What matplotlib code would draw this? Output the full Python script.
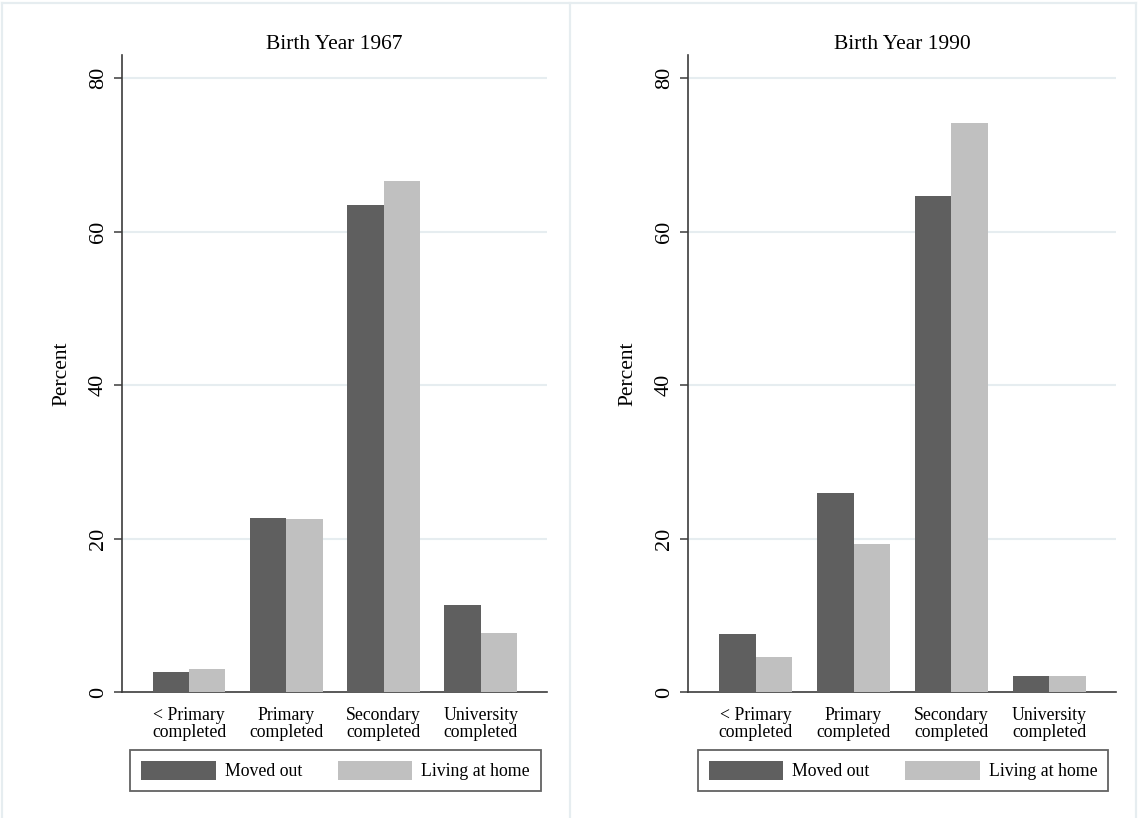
import matplotlib.pyplot as plt
import numpy as np
from matplotlib.lines import Line2D
from matplotlib.patches import Patch

categories = ["< Primary\ncompleted", "Primary\ncompleted",
              "Secondary\ncompleted", "University\ncompleted"]
series_names = ["Moved out", "Living at home"]
panel_titles = ["Birth Year 1967", "Birth Year 1990"]

moved_out_1967 = [2.65, 22.7, 63.4, 11.3]
living_home_1967 = [3.0, 22.6, 66.6, 7.65]
moved_out_1990 = [7.6, 25.9, 64.6, 2.05]
living_home_1990 = [4.5, 19.3, 74.2, 2.05]

yticks = [0, 20, 40, 60, 80]

DARK = "#5f5f5f"
LIGHT = "#c0c0c0"
GRID = "#e6edf0"
AXIS = "#3c3c3c"

plt.rcParams["font.family"] = ["Liberation Serif", "DejaVu Serif"]

W, H = 1138, 818
fig = plt.figure(figsize=(W / 100, H / 100), dpi=100)


def fx(px):
    return px / W


def fy(py):
    return 1 - py / H


# panel borders of the combined graph
for seg in [((2, 2), (3, 818)), ((2, 1136), (3, 3)), ((569.5, 569.5), (3, 818)),
            ((1136, 1136), (3, 818))]:
    fig.add_artist(Line2D([fx(seg[0][0]), fx(seg[0][1])],
                          [fy(seg[1][0]), fy(seg[1][1])],
                          color=GRID, lw=1.6, transform=fig.transFigure))

panels = [
    (122, 547, moved_out_1967, living_home_1967, panel_titles[0]),
    (688, 1116, moved_out_1990, living_home_1990, panel_titles[1]),
]

x = np.arange(len(categories))
width = 0.374
ax_top, ax_bottom = 55, 692

for left, right, moved, home, title in panels:
    ax = fig.add_axes([fx(left), fy(ax_bottom), fx(right) - fx(left),
                       fy(ax_top) - fy(ax_bottom)])
    ax.bar(x - width / 2, moved, width, color=DARK, zorder=3)
    ax.bar(x + width / 2, home, width, color=LIGHT, zorder=3)

    ax.set_xlim(-0.69, 3.68)
    ax.set_ylim(0, 80 * (ax_bottom - ax_top) / (ax_bottom - 78))
    ax.set_yticks(yticks)
    ax.set_yticklabels([str(t) for t in yticks], rotation=90, va="center",
                       fontsize=16)
    ax.set_xticks(x)
    ax.set_xticklabels(categories, fontsize=12.8, linespacing=0.95)
    ax.tick_params(axis="x", length=0, pad=11)
    ax.tick_params(axis="y", length=6, width=1.1, color=AXIS, pad=4)

    for y in yticks[1:]:
        ax.axhline(y, color=GRID, lw=1.5, zorder=1)

    for side in ("top", "right"):
        ax.spines[side].set_visible(False)
    for side in ("left", "bottom"):
        ax.spines[side].set_color(AXIS)
        ax.spines[side].set_linewidth(1.2)

    fig.text(fx(left - 60), fy(374), "Percent", rotation=90, ha="center",
             va="center", fontsize=15.5)

    center = (left + right) / 2
    fig.text(fx(center), fy(49), title, ha="center", va="baseline",
             fontsize=15.5)

    handles = [Patch(facecolor=DARK), Patch(facecolor=LIGHT)]
    leg = fig.legend(handles, series_names, loc="center",
                     bbox_to_anchor=(fx(center + 1), fy(770.5)),
                     ncol=2, fontsize=12.8, frameon=True, fancybox=False,
                     handlelength=4.2, handleheight=1.25, handletextpad=0.5,
                     columnspacing=2.0, borderpad=0.6, borderaxespad=0)
    leg.get_frame().set_edgecolor(AXIS)
    leg.get_frame().set_linewidth(1.3)

fig.savefig("out.png", dpi=100)
plt.close(fig)
